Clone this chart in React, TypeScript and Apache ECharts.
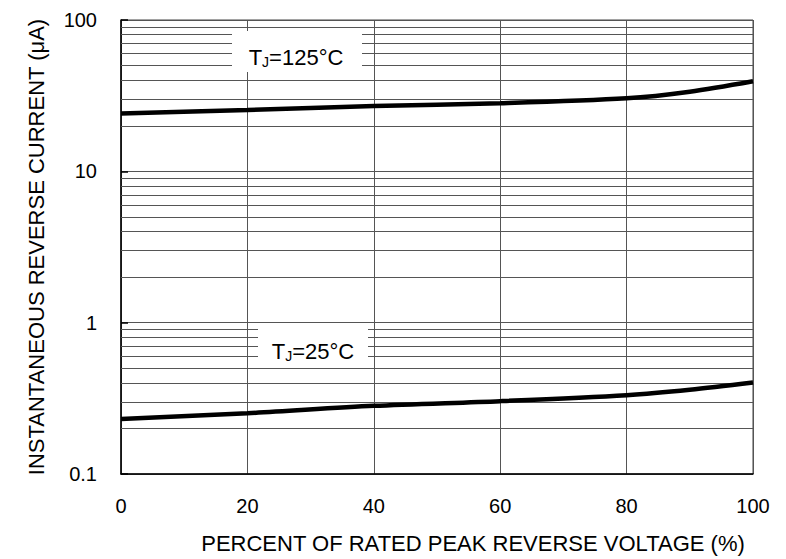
import React, { useEffect, useRef } from "react";
import * as echarts from "echarts";

const voltagePct = [0, 20, 40, 60, 80, 90, 100];
const current125 = [24.1, 25.4, 27.0, 28.2, 30.4, 33.6, 39.4];
const current25 = [0.231, 0.252, 0.282, 0.303, 0.332, 0.36, 0.402];
const yMajor = [0.1, 1, 10, 100];
const minorGridValues = [
  0.2, 0.3, 0.4, 0.5, 0.6, 0.7, 0.8, 0.9,
  2, 3, 4, 5, 6, 7, 8, 9,
  20, 30, 40, 50, 60, 70, 80, 90,
];
const xAxisTitle = "PERCENT OF RATED PEAK REVERSE VOLTAGE (%)";
const yAxisTitle = "INSTANTANEOUS REVERSE CURRENT (\u03bcA)";

const FONT = "Liberation Sans, Arial, sans-serif";

export default function App() {
  const ref = useRef<HTMLDivElement>(null);
  useEffect(() => {
    if (!ref.current) return;
    const chart = echarts.init(ref.current, undefined, { renderer: "svg" });
    const gridColor = "#555";
    const tjText = (temp: string) => `{a|T}{s|J}{a|=${temp}\u00b0C}`;
    const rich = {
      a: { fontSize: 22, fontFamily: FONT, color: "#000" },
      s: { fontSize: 14, fontFamily: FONT, color: "#000", padding: [10, 0, 0, 0] },
    };
    chart.setOption({
      animation: false,
      backgroundColor: "#fff",
      grid: {
        left: 121,
        top: 20,
        right: 33,
        bottom: 84,
        show: true,
        borderColor: "#444",
        borderWidth: 1,
      },
      xAxis: {
        type: "value",
        min: 0,
        max: 100,
        interval: 20,
        name: xAxisTitle,
        nameLocation: "middle",
        nameGap: 58,
        nameTextStyle: {
          fontSize: 22,
          fontFamily: FONT,
          color: "#000",
          padding: [0, 0, 0, 72],
        },
        axisLine: { show: true, lineStyle: { color: "#000", width: 1.5 } },
        axisTick: { show: false },
        axisLabel: { fontSize: 20, fontFamily: FONT, color: "#000", margin: 22 },
        splitLine: { show: true, lineStyle: { color: gridColor, width: 1 } },
      },
      yAxis: {
        type: "log",
        logBase: 10,
        min: yMajor[0],
        max: yMajor[yMajor.length - 1],
        name: yAxisTitle,
        nameLocation: "middle",
        nameGap: 74,
        nameTextStyle: { fontSize: 22, fontFamily: FONT, color: "#000" },
        axisLine: { show: true, lineStyle: { color: "#000", width: 1.5 } },
        axisTick: { show: true, inside: true, length: 7, lineStyle: { color: "#000", width: 1.5 } },
        axisLabel: {
          fontSize: 20,
          fontFamily: FONT,
          color: "#000",
          margin: 24,
          formatter: (v: number) => String(v),
        },
        splitLine: { show: true, lineStyle: { color: gridColor, width: 1 } },
      },
      series: [
        {
          type: "line",
          data: voltagePct.map((x, i) => [x, current125[i]]),
          smooth: 0.3,
          symbol: "none",
          lineStyle: { color: "#000", width: 4.5 },
          z: 5,
          markLine: {
            silent: true,
            symbol: ["none", "none"],
            label: { show: false },
            lineStyle: { color: gridColor, width: 1, type: "solid" },
            data: minorGridValues.map((v) => ({ yAxis: v })),
            z: 1,
          },
        },
        {
          type: "line",
          data: voltagePct.map((x, i) => [x, current25[i]]),
          smooth: 0.3,
          symbol: "none",
          lineStyle: { color: "#000", width: 4.5 },
          z: 5,
        },
      ],
      graphic: [
        { type: "rect", shape: { x: 232, y: 31, width: 130, height: 41 }, style: { fill: "#fff" }, z: 10 },
        {
          type: "text",
          x: 296,
          y: 57,
          z: 11,
          style: { text: tjText("125"), rich, align: "center", verticalAlign: "middle" },
        },
        { type: "rect", shape: { x: 258, y: 326, width: 110, height: 40 }, style: { fill: "#fff" }, z: 10 },
        {
          type: "text",
          x: 313,
          y: 351,
          z: 11,
          style: { text: tjText("25"), rich, align: "center", verticalAlign: "middle" },
        },
      ],
    });
    return () => chart.dispose();
  }, []);
  return <div ref={ref} style={{ width: 786, height: 559, position: "absolute", left: 0, top: 0 }} />;
}
